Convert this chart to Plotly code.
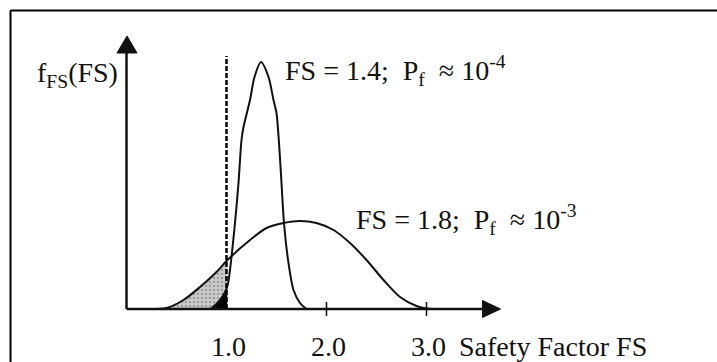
import plotly.graph_objects as go

# Probability density of the safety factor for two designs (FS, density)
narrow_fs = [0.84, 0.90, 0.95, 1.00, 1.02, 1.05, 1.085, 1.12, 1.15, 1.17, 1.235, 1.28, 1.345,
             1.42, 1.47, 1.50, 1.525, 1.55, 1.575, 1.62, 1.67, 1.735, 1.80]
narrow_pdf = [0.0, 0.05, 0.11, 0.20, 0.28, 0.52, 0.86, 1.26, 1.69, 1.82, 2.09, 2.32, 2.47,
              2.32, 2.09, 1.96, 1.66, 1.26, 0.86, 0.46, 0.19, 0.06, 0.0]

wide_fs = [0.20, 0.40, 0.57, 0.735, 0.90, 1.00, 1.235, 1.40, 1.57, 1.735, 1.90, 2.07,
           2.235, 2.40, 2.57, 2.735, 2.90, 3.00, 3.30]
wide_pdf = [0.0, 0.01, 0.09, 0.22, 0.37, 0.48, 0.69, 0.81, 0.86, 0.88, 0.86, 0.79,
            0.66, 0.49, 0.29, 0.12, 0.03, 0.005, 0.0]

failure_limit = 1.0
tick_values = [1.0, 2.0, 3.0]
tick_labels = ["1.0", "2.0", "3.0"]
narrow_label = "FS = 1.4;&nbsp; P<sub>f</sub> &nbsp;≈ 10<sup>-4</sup>"
wide_label = "FS = 1.8;&nbsp; P<sub>f</sub> &nbsp;≈ 10<sup>-3</sup>"
x_title = "Safety Factor FS"
y_title = "f<sub>FS</sub>(FS)"

INK = "#111111"
FONT = "Liberation Serif, Times New Roman, serif"
FSIZE = 28

fig = go.Figure()

# failure region of the wide distribution (FS < 1)
wx = [x for x in wide_fs if x <= failure_limit]
wy = [y for x, y in zip(wide_fs, wide_pdf) if x <= failure_limit]
fig.add_trace(go.Scatter(
    x=wx, y=wy, mode="lines", line=dict(width=0, shape="spline", smoothing=0.8),
    fill="tozeroy", fillcolor="#b8b8b8",
    fillpattern=dict(shape=".", fgcolor="#6e6e6e", bgcolor="#cccccc", size=4, solidity=0.35),
    hoverinfo="skip"))

# failure region of the narrow distribution (FS < 1)
nx = [x for x in narrow_fs if x <= failure_limit]
ny = [y for x, y in zip(narrow_fs, narrow_pdf) if x <= failure_limit]
fig.add_trace(go.Scatter(
    x=nx + [failure_limit, nx[0]], y=ny + [0, 0], mode="lines",
    line=dict(width=1.5, color="#000"), fill="toself", fillcolor="#000",
    hoverinfo="skip"))

for xs, ys in ((wide_fs, wide_pdf), (narrow_fs, narrow_pdf)):
    fig.add_trace(go.Scatter(
        x=xs, y=ys, mode="lines",
        line=dict(color=INK, width=2, shape="spline", smoothing=0.8),
        hoverinfo="skip"))

shapes = []
# axes with arrow heads
shapes.append(dict(type="line", x0=0, y0=0, x1=0, y1=2.6, line=dict(color=INK, width=2.5)))
shapes.append(dict(type="line", x0=0, y0=0, x1=3.6, y1=0, line=dict(color=INK, width=2.5)))
shapes.append(dict(type="path", path="M -0.095,2.56 L 0.005,2.73 L 0.105,2.56 Z",
                   fillcolor=INK, line=dict(color=INK, width=1)))
shapes.append(dict(type="path", path="M 3.56,0.085 L 3.74,0 L 3.56,-0.085 Z",
                   fillcolor=INK, line=dict(color=INK, width=1)))
# ticks
for t in tick_values[1:]:
    shapes.append(dict(type="line", x0=t, y0=-0.07, x1=t, y1=0.07,
                       line=dict(color=INK, width=1.5)))
# FS = 1 limit
shapes.append(dict(type="line", x0=failure_limit, y0=0, x1=failure_limit, y1=2.53,
                   line=dict(color="#000", width=2.5, dash="5px,2px")))
# frame (top and left edges)
shapes.append(dict(type="line", xref="paper", yref="paper", x0=10.5 / 717, y0=0,
                   x1=10.5 / 717, y1=1 - 10.5 / 362, line=dict(color="#000", width=2)))
shapes.append(dict(type="line", xref="paper", yref="paper", x0=10.5 / 717, y0=1 - 10.5 / 362,
                   x1=1, y1=1 - 10.5 / 362, line=dict(color="#000", width=2)))

txt = dict(size=FSIZE, color=INK, family=FONT)
annotations = []
for t, lab in zip(tick_values, tick_labels):
    annotations.append(dict(x=t, y=-0.37, text=lab, showarrow=False, xanchor="center",
                            yanchor="middle", xshift=2, font=txt))
annotations.append(dict(x=3.3, y=-0.37, text=x_title, showarrow=False, xanchor="left",
                        yanchor="middle", font=txt))
annotations.append(dict(x=-0.07, y=2.35, text=y_title, showarrow=False, xanchor="right",
                        yanchor="middle", font=txt))
annotations.append(dict(x=1.565, y=2.385, text=narrow_label, showarrow=False, xanchor="left",
                        yanchor="middle", font=txt))
annotations.append(dict(x=2.275, y=0.895, text=wide_label, showarrow=False, xanchor="left",
                        yanchor="middle", font=txt))

fig.update_layout(
    width=717, height=362,
    margin=dict(l=0, r=0, t=0, b=0),
    paper_bgcolor="white", plot_bgcolor="white",
    showlegend=False,
    font=dict(family=FONT),
    xaxis=dict(range=[-1.265, 5.905], visible=False, fixedrange=True),
    yaxis=dict(range=[-0.53, 3.09], visible=False, fixedrange=True),
    shapes=shapes, annotations=annotations,
)

fig.write_html("out.html")
